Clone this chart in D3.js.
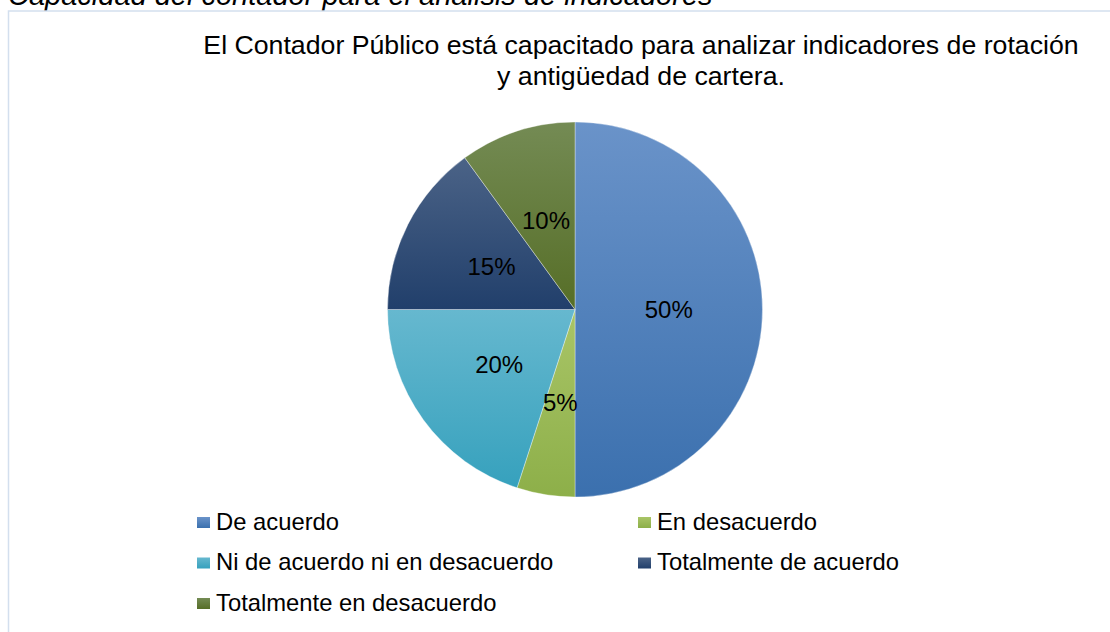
<!DOCTYPE html>
<html>
<head>
<meta charset="utf-8">
<script src="https://cdn.jsdelivr.net/npm/d3@7"></script>
<style>
  body { margin: 0; background: #fff; }
  text { font-family: "Liberation Sans", Arial, sans-serif; fill: #000; }
</style>
</head>
<body>
<div id="chart"></div>
<script>
// datos del gráfico
const categorias = ["De acuerdo", "En desacuerdo", "Ni de acuerdo ni en desacuerdo", "Totalmente de acuerdo", "Totalmente en desacuerdo"];
const valores = [50, 5, 20, 15, 10];
const caption = "Capacidad del contador para el análisis de indicadores";
const tituloLineas = ["El Contador Público está capacitado para analizar indicadores de rotación", "y antigüedad de cartera."];

// colores tipo Excel (claro arriba, oscuro abajo)
const coloresClaros = ["#6a93c9", "#a9c567", "#66b8cf", "#4b6387", "#748b54"];
const coloresOscuros = ["#3b70ae", "#8daf49", "#36a1bd", "#213f6b", "#566e27"];

const fullWidth = 1110, fullHeight = 632;

const svg = d3.select("#chart")
  .append("svg")
  .attr("width", fullWidth)
  .attr("height", fullHeight);

// gradientes
const defs = svg.append("defs");
categorias.forEach((c, i) => {
  const g = defs.append("linearGradient")
    .attr("id", "grad" + i)
    .attr("x1", 0).attr("y1", 0).attr("x2", 0).attr("y2", 1);
  g.append("stop").attr("offset", "0%").attr("stop-color", coloresClaros[i]);
  g.append("stop").attr("offset", "100%").attr("stop-color", coloresOscuros[i]);
});

// texto del pie de figura (cortado arriba)
svg.append("text")
  .attr("x", 8)
  .attr("y", 5)
  .style("font-size", "29px")
  .style("font-style", "italic")
  .text(caption);

// marco del área del gráfico
svg.append("rect")
  .attr("x", 8.5)
  .attr("y", 11)
  .attr("width", 1120)
  .attr("height", 640)
  .attr("fill", "#fff")
  .attr("stroke", "#d3dfee")
  .attr("stroke-width", 1.5);

// título
svg.append("g")
  .selectAll("text")
  .data(tituloLineas)
  .join("text")
  .attr("x", 641)
  .attr("y", (d, i) => 54 + i * 31)
  .attr("text-anchor", "middle")
  .style("font-size", "26.7px")
  .text(d => d);

// pastel
const cx = 575, cy = 309.5, radio = 187.5;

const pie = d3.pie().sort(null).value(d => d.valor);
const arc = d3.arc().innerRadius(0).outerRadius(radio);

const datos = categorias.map((c, i) => ({ nombre: c, valor: valores[i], idx: i }));
const arcos = pie(datos);

const gPie = svg.append("g").attr("transform", `translate(${cx},${cy})`);

gPie.selectAll("path")
  .data(arcos)
  .join("path")
  .attr("d", arc)
  .attr("fill", d => `url(#grad${d.data.idx})`)
  .attr("stroke", "rgba(255,255,255,0.5)")
  .attr("stroke-width", 0.7);

gPie.selectAll("text")
  .data(arcos)
  .join("text")
  .attr("transform", d => `translate(${arc.centroid(d)})`)
  .attr("text-anchor", "middle")
  .attr("dominant-baseline", "central")
  .style("font-size", "24px")
  .text(d => d.data.valor + "%");

// leyenda en dos columnas
const colX = [197, 638];
const filaY = d3.scalePoint().domain([0, 1, 2]).range([521, 602]);

const legend = svg.append("g");
categorias.forEach((c, i) => {
  const fila = legend.append("g")
    .attr("transform", `translate(${colX[i % 2]},${filaY(Math.floor(i / 2))})`);
  fila.append("rect")
    .attr("x", 0)
    .attr("y", -4)
    .attr("width", 13)
    .attr("height", 11)
    .attr("fill", `url(#grad${i})`);
  fila.append("text")
    .attr("x", 19)
    .attr("y", 0)
    .attr("dominant-baseline", "central")
    .style("font-size", "23.8px")
    .text(c);
});
</script>
</body>
</html>
